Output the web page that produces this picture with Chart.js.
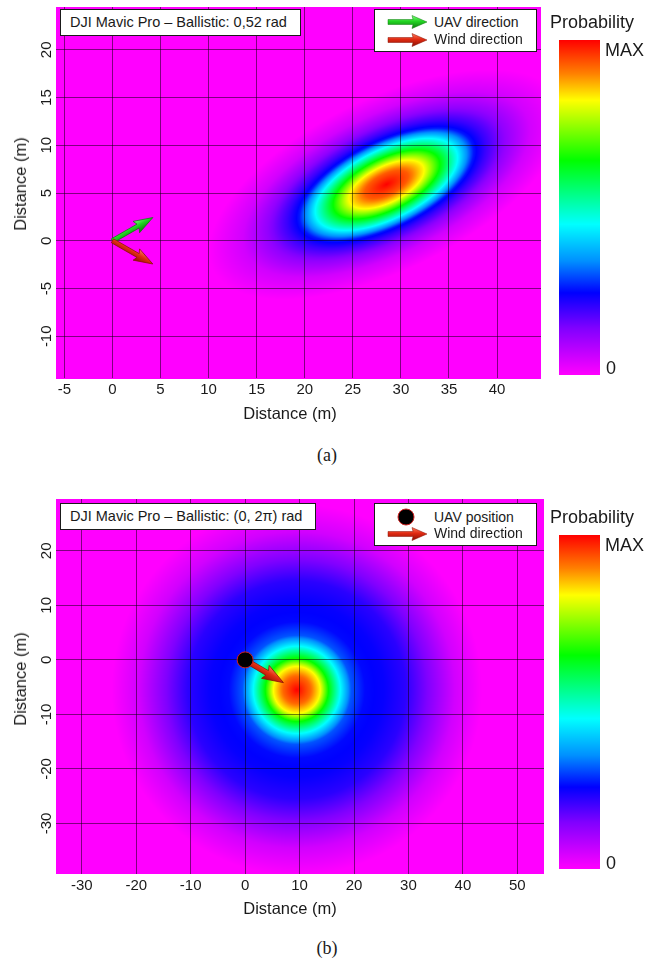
<!DOCTYPE html>
<html><head><meta charset="utf-8">
<script src="https://cdn.jsdelivr.net/npm/chart.js@4/dist/chart.umd.min.js"></script>
<style>
html,body{margin:0;padding:0;background:#fff;width:659px;height:962px;overflow:hidden;font-family:"Liberation Sans",Arial,sans-serif;color:#1a1a1a;}
.panel{position:absolute;left:0;width:659px;}
canvas{position:absolute;left:0;top:0;}
.box{position:absolute;background:#fff;border:1px solid #1a1a1a;box-sizing:border-box;}
.t{position:absolute;white-space:nowrap;}
.ax{position:absolute;white-space:nowrap;font-size:16.5px;line-height:20px;transform:translate(-50%,-50%);}
.ax.v{transform:translate(-50%,-50%) rotate(-90deg);}
.bar{position:absolute;left:559px;width:41px;}
.cap{position:absolute;left:0;width:654px;text-align:center;font-family:"Liberation Serif","Times New Roman",serif;font-size:18px;}
</style></head><body>

<div class="panel" style="top:0;height:430px">
  <canvas id="ca" width="659" height="430"></canvas>
  <span class="ax" style="left:290px;top:412.7px;">Distance (m)</span>
  <span class="ax v" style="left:20px;top:184px;">Distance (m)</span>
  <div class="box" style="left:60px;top:9px;width:241px;height:27px;"><span class="t" style="left:9px;top:0;line-height:25px;font-size:14.5px;">DJI Mavic Pro – Ballistic: 0,52 rad</span></div>
  <div class="box" style="left:374px;top:9px;width:163px;height:43px;">
    <svg class="t" style="left:12px;top:5px" width="42" height="14" id="legUav"></svg>
    <svg class="t" style="left:12px;top:23px" width="42" height="14" id="legWindA"></svg>
    <span class="t" style="left:59px;top:3px;line-height:18px;font-size:14px;">UAV direction</span>
    <span class="t" style="left:59px;top:20px;line-height:18px;font-size:14px;">Wind direction</span>
  </div>
  <span class="t" style="left:550px;top:11px;line-height:22px;font-size:18px;">Probability</span>
  <div class="bar" id="barA" style="top:40px;height:335px;"></div>
  <span class="t" style="left:605px;top:39px;line-height:22px;font-size:18px;">MAX</span>
  <span class="t" style="left:606px;top:357px;line-height:22px;font-size:18px;">0</span>
</div>
<div class="cap" style="top:444px;line-height:22px;">(a)</div>

<div class="panel" style="top:490px;height:440px">
  <canvas id="cb" width="659" height="440"></canvas>
  <span class="ax" style="left:290px;top:417.7px;">Distance (m)</span>
  <span class="ax v" style="left:20px;top:189px;">Distance (m)</span>
  <div class="box" style="left:60px;top:13px;width:256px;height:27px;"><span class="t" style="left:9px;top:0;line-height:25px;font-size:14.5px;">DJI Mavic Pro – Ballistic: (0, 2π) rad</span></div>
  <div class="box" style="left:374px;top:13px;width:163px;height:43px;">
    <svg class="t" style="left:20px;top:3px" width="22" height="20" id="legDot"></svg>
    <svg class="t" style="left:12px;top:23px" width="42" height="14" id="legWindB"></svg>
    <span class="t" style="left:59px;top:4px;line-height:18px;font-size:14px;">UAV position</span>
    <span class="t" style="left:59px;top:20px;line-height:18px;font-size:14px;">Wind direction</span>
  </div>
  <span class="t" style="left:550px;top:16px;line-height:22px;font-size:18px;">Probability</span>
  <div class="bar" id="barB" style="top:45px;height:334px;"></div>
  <span class="t" style="left:605px;top:44px;line-height:22px;font-size:18px;">MAX</span>
  <span class="t" style="left:606px;top:362px;line-height:22px;font-size:18px;">0</span>
</div>
<div class="cap" style="top:937px;line-height:22px;">(b)</div>

<script>
// ---------- data ----------
// panel (a)
const xTicksA = [-5, 0, 5, 10, 15, 20, 25, 30, 35, 40];
const yTicksA = [-10, -5, 0, 5, 10, 15, 20];
const peakA = [28.5, 5.9];            // centre of the probability ellipse (m)
const axesA = [11.2, 5.0];            // semi-axes of the outer blue contour (m)
const angleA = 0.46;                  // ellipse orientation (rad)
const profileDistA  = [0, 0.22, 0.38, 0.54, 0.72, 0.88, 1.0, 1.2, 1.45, 1.8];
const profileLevelA = [1, 0.93, 0.82, 0.64, 0.45, 0.26, 0.2, 0.12, 0.05, 0];
const uavDirA  = [[0, 0], [4.2, 2.43]];
const windDirA = [[0, 0], [4.2, -2.43]];

// panel (b)
const xTicksB = [-30, -20, -10, 0, 10, 20, 30, 40, 50];
const yTicksB = [-30, -20, -10, 0, 10, 20];
const peakB = [9.5, -5.5];            // centre of the probability blob (m)
const profileDistB  = [0, 2.5, 4.3, 5.8, 8.0, 10.0, 12.5, 16.0, 20.0, 24.0, 29.0, 34.0];
const profileLevelB = [1, 0.92, 0.82, 0.64, 0.45, 0.3, 0.25, 0.24, 0.21, 0.14, 0.05, 0];
const uavPosB  = [0, 0];
const windDirB = [[0, 0], [7.04, -4.17]];

// colour scale (0 -> MAX)
const levelStops  = [0, 0.14, 0.245, 0.34, 0.45, 0.64, 0.82, 0.90, 1];
const levelColors = ['#ff00ff', '#8000ff', '#0000ff', '#0090ff', '#00ffff', '#00ff00', '#ffff00', '#ff8000', '#ff0000'];

// ---------- helpers ----------
const rgbStops = levelColors.map(h => [parseInt(h.slice(1,3),16), parseInt(h.slice(3,5),16), parseInt(h.slice(5,7),16)]);
function colorAt(t) {
  t = Math.max(0, Math.min(1, t));
  for (let i = 1; i < levelStops.length; i++) {
    if (t <= levelStops[i]) {
      const f = (t - levelStops[i-1]) / (levelStops[i] - levelStops[i-1]);
      const a = rgbStops[i-1], b = rgbStops[i];
      return [a[0]+(b[0]-a[0])*f, a[1]+(b[1]-a[1])*f, a[2]+(b[2]-a[2])*f];
    }
  }
  return rgbStops[rgbStops.length-1];
}
function profile(ds, ls, d) {
  if (d <= ds[0]) return ls[0];
  for (let i = 1; i < ds.length; i++) if (d <= ds[i]) {
    const f = (d - ds[i-1]) / (ds[i] - ds[i-1]);
    return ls[i-1] + (ls[i] - ls[i-1]) * f;
  }
  return ls[ls.length-1];
}
function levelA(x, y) {
  const dx = x - peakA[0], dy = y - peakA[1];
  const c = Math.cos(angleA), s = Math.sin(angleA);
  const u = (dx*c + dy*s) / axesA[0], v = (-dx*s + dy*c) / axesA[1];
  return profile(profileDistA, profileLevelA, Math.sqrt(u*u + v*v));
}
function levelB(x, y) {
  const d = Math.hypot(x - peakB[0], y - peakB[1]);
  return profile(profileDistB, profileLevelB, d);
}
function makeHeat(fn) {
  return {
    id: 'heat',
    beforeDraw(chart) {
      const {ctx, chartArea: a, scales: {x: sx, y: sy}} = chart;
      const L = Math.floor(a.left), T = Math.floor(a.top);
      const W = Math.ceil(a.right) - L, H = Math.ceil(a.bottom) - T;
      const img = ctx.createImageData(W, H);
      for (let j = 0; j < H; j++) {
        const yv = sy.getValueForPixel(T + j + 0.5);
        for (let i = 0; i < W; i++) {
          const xv = sx.getValueForPixel(L + i + 0.5);
          const c = colorAt(fn(xv, yv));
          const k = (j * W + i) * 4;
          img.data[k] = c[0]; img.data[k+1] = c[1]; img.data[k+2] = c[2]; img.data[k+3] = 255;
        }
      }
      ctx.putImageData(img, L, T);
    }
  };
}
function drawArrow(ctx, x0, y0, x1, y1, st) {
  const ang = Math.atan2(y1 - y0, x1 - x0), len = Math.hypot(x1 - x0, y1 - y0);
  const hl = st.head, hw = st.headW, sw = st.shaft;
  ctx.save();
  ctx.translate(x0, y0); ctx.rotate(ang);
  ctx.beginPath();
  ctx.moveTo(0, -sw); ctx.lineTo(len - hl, -sw); ctx.lineTo(len - hl - 2, -hw);
  ctx.lineTo(len, 0);
  ctx.lineTo(len - hl - 2, hw); ctx.lineTo(len - hl, sw); ctx.lineTo(0, sw); ctx.closePath();
  const g = ctx.createLinearGradient(0, -hw, 0, hw);
  g.addColorStop(0, st.light); g.addColorStop(0.45, st.fill); g.addColorStop(1, st.dark);
  ctx.fillStyle = g; ctx.fill();
  ctx.lineWidth = 0.7; ctx.strokeStyle = st.dark; ctx.stroke();
  ctx.restore();
}
const arrowPlugin = {
  id: 'arrows',
  beforeDatasetsDraw(chart) {
    chart.data.datasets.forEach((ds, i) => {
      if (!ds.arrowStyle) return;
      const pts = chart.getDatasetMeta(i).data;
      drawArrow(chart.ctx, pts[0].x, pts[0].y, pts[1].x, pts[1].y, ds.arrowStyle);
    });
  }
};
const GREEN = {fill: '#22d422', light: '#7cff7c', dark: '#0e7a0e', head: 17, headW: 6.5, shaft: 2.2};
const RED   = {fill: '#e02a12', light: '#ff7a5a', dark: '#8a1004', head: 17, headW: 6.5, shaft: 2.2};
const RED_B = {fill: '#e02a12', light: '#ff7a5a', dark: '#8a1004', head: 19, headW: 7.5, shaft: 2.6};

const FONT = 'Liberation Sans';
function axes(xmin, xmax, ymin, ymax, xt, yt) {
  const common = {
    type: 'linear',
    grid: {color: 'rgba(0,0,0,0.5)', lineWidth: 1, drawTicks: false},
    border: {display: false},
  };
  return {
    x: Object.assign({}, common, {
      min: xmin, max: xmax,
      afterBuildTicks: s => { s.ticks = xt.map(v => ({value: v})); },
      afterFit: s => { s.height = 45; },
      ticks: {padding: 3, autoSkip: false, maxRotation: 0, color: '#1a1a1a', font: {family: FONT, size: 15}, callback: v => String(v)},
      title: {display: false, text: 'Distance (m)'}
    }),
    y: Object.assign({}, common, {
      min: ymin, max: ymax,
      afterBuildTicks: s => { s.ticks = yt.map(v => ({value: v})); },
      afterFit: s => { s.width = 56; },
      ticks: {padding: -2, autoSkip: false, minRotation: 90, maxRotation: 90, crossAlign: 'center', color: '#1a1a1a', font: {family: FONT, size: 15}, callback: v => String(v)},
      title: {display: false, text: 'Distance (m)'}
    })
  };
}
const pt = p => ({x: p[0], y: p[1]});

new Chart(document.getElementById('ca'), {
  type: 'scatter',
  data: {datasets: [
    {label: 'UAV direction', data: uavDirA.map(pt), showLine: false, pointRadius: 0, arrowStyle: GREEN},
    {label: 'Wind direction', data: windDirA.map(pt), showLine: false, pointRadius: 0, arrowStyle: RED}
  ]},
  options: {
    responsive: false, animation: false, events: [],
    layout: {padding: {left: 0, top: 5, right: 118, bottom: 6.7}},
    plugins: {legend: {display: false}, tooltip: {enabled: false}},
    scales: axes(-5.87, 44.57, -14.4, 24.48, xTicksA, yTicksA)
  },
  plugins: [makeHeat(levelA), arrowPlugin]
});

new Chart(document.getElementById('cb'), {
  type: 'scatter',
  data: {datasets: [
    {label: 'UAV position', data: [pt(uavPosB)], pointRadius: 8, backgroundColor: '#000', borderColor: '#d02020', borderWidth: 1},
    {label: 'Wind direction', data: windDirB.map(pt), showLine: false, pointRadius: 0, arrowStyle: RED_B}
  ]},
  options: {
    responsive: false, animation: false, events: [],
    layout: {padding: {left: 0, top: 9, right: 115, bottom: 11.3}},
    plugins: {legend: {display: false}, tooltip: {enabled: false}},
    scales: axes(-34.74, 54.9, -39.2, 29.5, xTicksB, yTicksB)
  },
  plugins: [makeHeat(levelB), arrowPlugin]
});

// colour bars
const grad = 'linear-gradient(to top,' + levelStops.map((s, i) => levelColors[i] + ' ' + (s * 100) + '%').join(',') + ')';
document.getElementById('barA').style.background = grad;
document.getElementById('barB').style.background = grad;

// legend icons
function arrowSvg(id, st) {
  const el = document.getElementById(id);
  el.innerHTML = '<defs><linearGradient id="g' + id + '" x1="0" y1="0" x2="0" y2="1">' +
    '<stop offset="0" stop-color="' + st.light + '"/><stop offset="0.45" stop-color="' + st.fill + '"/><stop offset="1" stop-color="' + st.dark + '"/></linearGradient></defs>' +
    '<polygon points="1,4.5 26,4.5 25,0.5 40,7 25,13.5 26,9.5 1,9.5" fill="url(#g' + id + ')" stroke="' + st.dark + '" stroke-width="0.5"/>';
}
arrowSvg('legUav', GREEN);
arrowSvg('legWindA', RED);
arrowSvg('legWindB', RED);
document.getElementById('legDot').innerHTML = '<circle cx="11" cy="10" r="8" fill="#000" stroke="#d02020" stroke-width="1"/>';
</script>
</body></html>
